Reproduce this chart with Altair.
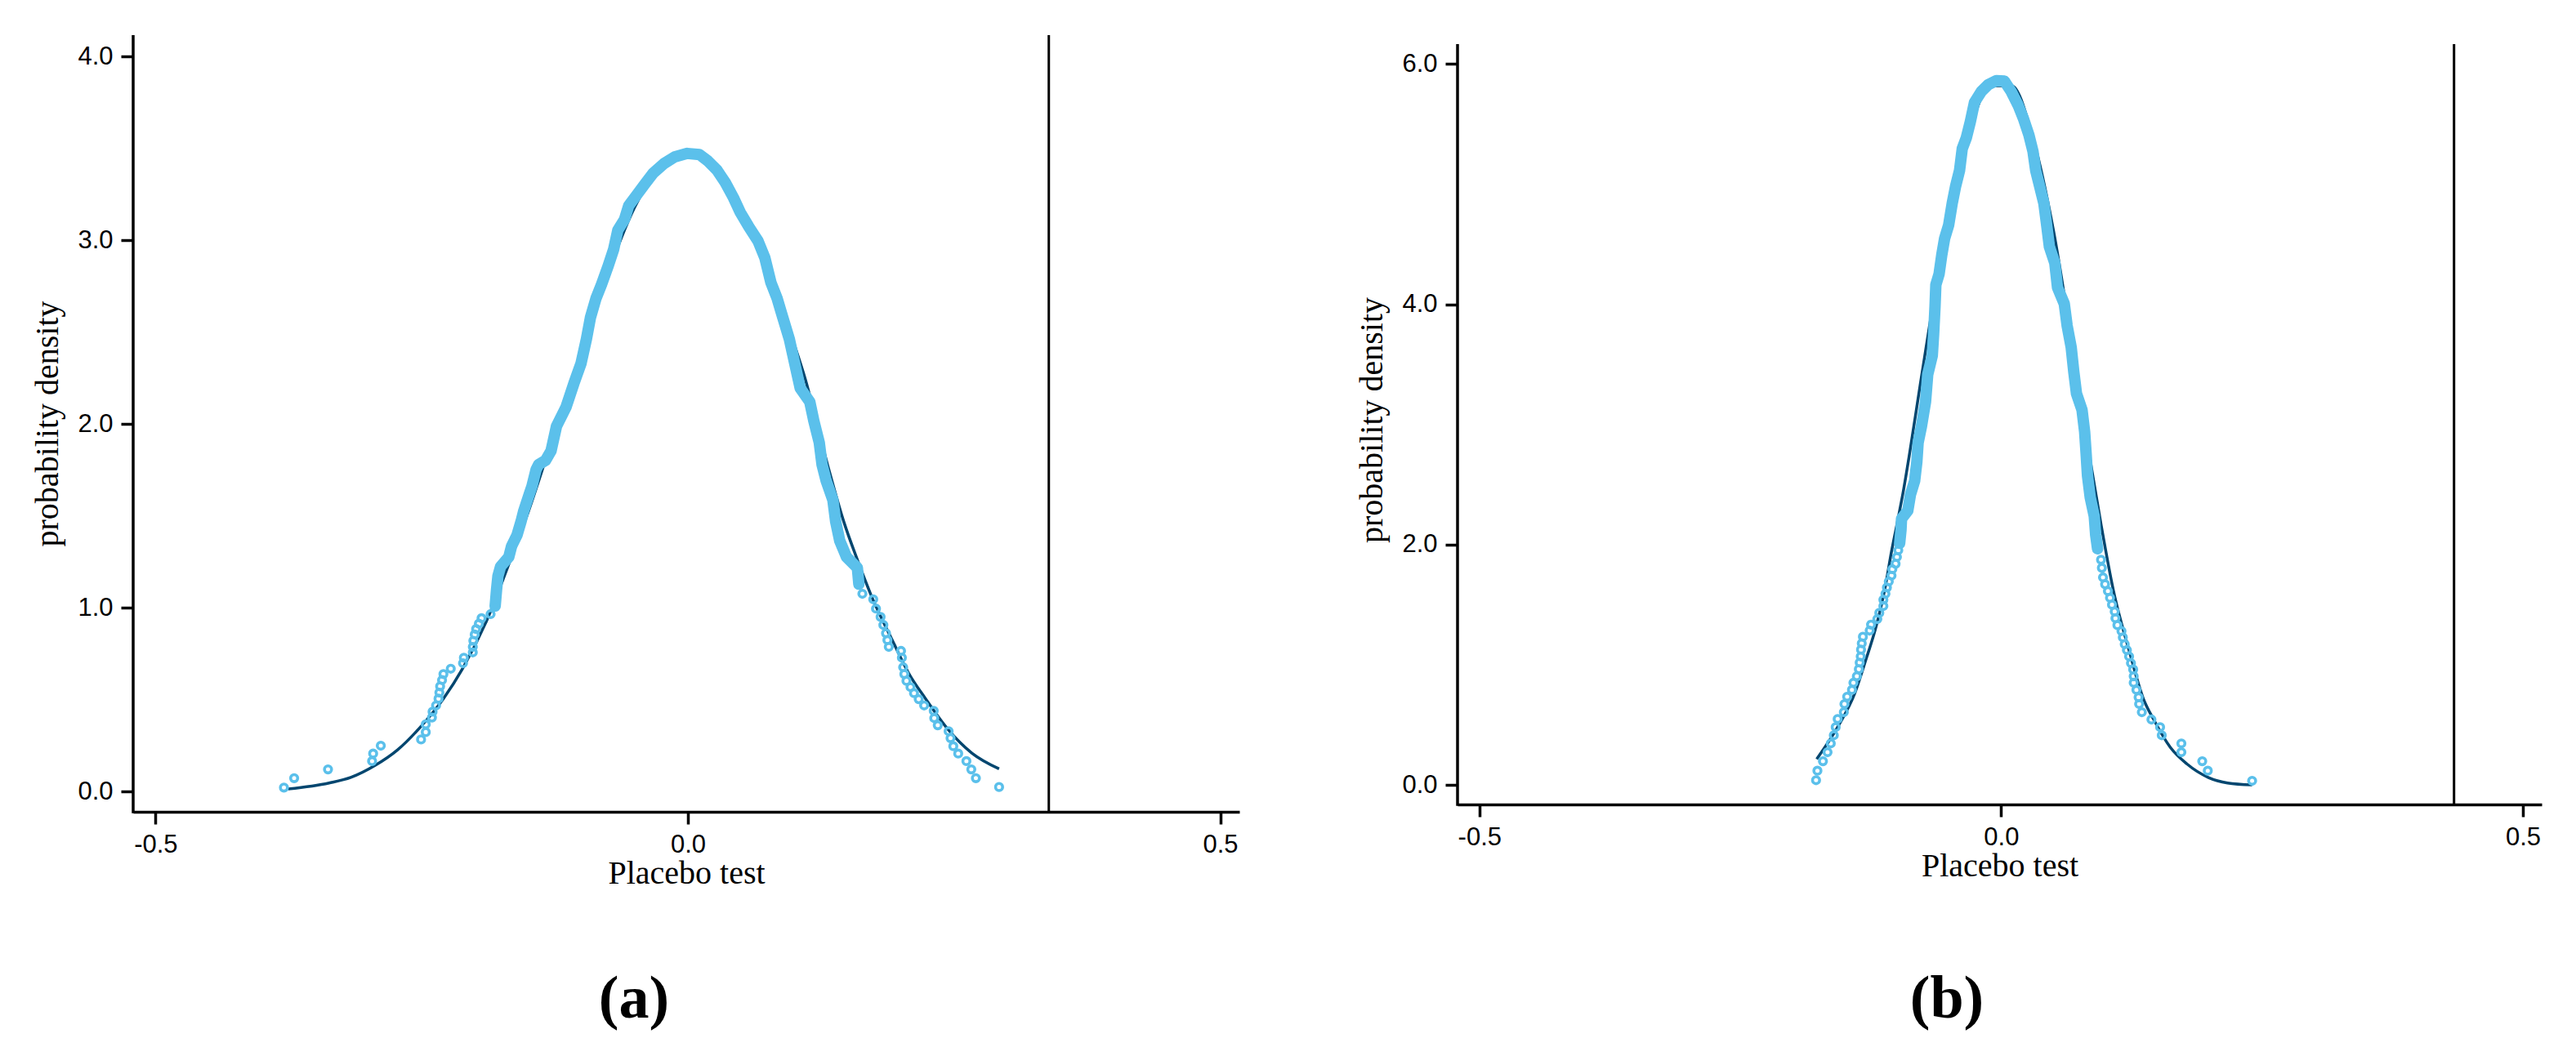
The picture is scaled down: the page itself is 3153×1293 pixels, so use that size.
import altair as alt
import pandas as pd

# ---------------- panel (a) data ----------------
dark_a_x = [-0.3754, -0.337, -0.3166, -0.2936, -0.2731, -0.2513, -0.2296, -0.2117, -0.1886, -0.1695,
            -0.15, -0.13, -0.11, -0.09, -0.07, -0.05, -0.03, -0.01, 0.01, 0.03, 0.05, 0.07, 0.09, 0.11,
            0.1311, 0.1464, 0.1592, 0.1721, 0.1925, 0.2078, 0.2232, 0.2437, 0.2667, 0.2923]
dark_a_y = [0.013, 0.046, 0.076, 0.142, 0.224, 0.350, 0.505, 0.668, 0.935, 1.217,
            1.52, 1.87, 2.22, 2.56, 2.90, 3.18, 3.37, 3.46, 3.46, 3.37, 3.18, 2.93, 2.60, 2.25,
            1.780, 1.469, 1.261, 1.068, 0.817, 0.639, 0.505, 0.342, 0.209, 0.123]

band_a_x = [-0.1810, -0.1797, -0.1784, -0.1759, -0.1682, -0.1656, -0.1605, -0.1567, -0.1541, -0.1490,
            -0.1464, -0.1426, -0.1401, -0.1337, -0.1285, -0.1234, -0.1145, -0.1068, -0.1004, -0.0953,
            -0.0915, -0.0863, -0.0812, -0.0748, -0.0697, -0.0658, -0.0595, -0.0556, -0.0480, -0.0403,
            -0.0326, -0.0224, -0.0121, -0.0006, 0.0109, 0.0186, 0.0275, 0.0352, 0.0428, 0.0493,
            0.0569, 0.0659, 0.0723, 0.0780, 0.0838, 0.0876, 0.0953, 0.1004, 0.1055, 0.1145,
            0.1183, 0.1234, 0.1260, 0.1299, 0.1362, 0.1388, 0.1426, 0.1490, 0.1592, 0.1606]
band_a_y = [1.009, 1.098, 1.172, 1.224, 1.276, 1.335, 1.395, 1.469, 1.528, 1.617,
            1.662, 1.751, 1.780, 1.802, 1.854, 1.988, 2.091, 2.225, 2.329, 2.462,
            2.580, 2.684, 2.758, 2.862, 2.951, 3.055, 3.114, 3.188, 3.247, 3.307,
            3.366, 3.418, 3.455, 3.473, 3.467, 3.433, 3.381, 3.314, 3.232, 3.151,
            3.077, 2.996, 2.905, 2.770, 2.684, 2.610, 2.462, 2.329, 2.195, 2.121,
            2.017, 1.899, 1.780, 1.691, 1.587, 1.469, 1.365, 1.276, 1.217, 1.128]

pts_a_x = [-0.3794, -0.3698, -0.338, -0.2966, -0.2956, -0.2884, -0.2506, -0.2462, -0.2462, -0.2404,
           -0.2398, -0.2365, -0.2342, -0.2334, -0.2327, -0.2309, -0.2296, -0.2227, -0.2112, -0.2104,
           -0.2020, -0.2020, -0.2015, -0.2002, -0.1989, -0.1963, -0.1938, -0.1853, -0.1810,
           0.1639, 0.1741, 0.1767, 0.1810, 0.1836, 0.1861, 0.1874, 0.1887, 0.2002, 0.2010,
           0.2022, 0.2033, 0.2053, 0.2091, 0.2124, 0.2168, 0.2219, 0.2309, 0.2314, 0.2347,
           0.2449, 0.2467, 0.2493, 0.2539, 0.2616, 0.2662, 0.2705, 0.2923]
pts_a_y = [0.021, 0.072, 0.120, 0.165, 0.206, 0.249, 0.283, 0.323, 0.365, 0.402,
           0.434, 0.468, 0.505, 0.538, 0.572, 0.606, 0.639, 0.668, 0.698, 0.728,
           0.757, 0.787, 0.820, 0.854, 0.884, 0.913, 0.943, 0.965, 1.009,
           1.076, 1.046, 0.995, 0.950, 0.906, 0.861, 0.824, 0.787, 0.765, 0.728,
           0.676, 0.639, 0.602, 0.568, 0.535, 0.502, 0.468, 0.439, 0.399, 0.360,
           0.328, 0.290, 0.246, 0.206, 0.165, 0.120, 0.072, 0.024]

vline_a = [0.339]
yticks_a = [0, 1, 2, 3, 4]

# ---------------- panel (b) data ----------------
dark_b_x = [-0.1768, -0.1560, -0.1403, -0.1299, -0.1195, -0.1116, -0.1051, -0.0999, -0.0934, -0.0882,
            -0.0777, -0.07, -0.05, -0.03, -0.01, 0.01, 0.03, 0.05, 0.07, 0.085,
            0.0957, 0.1074, 0.1231, 0.1362, 0.1466, 0.1622, 0.1779, 0.1987, 0.2170, 0.2405]
dark_b_y = [0.215, 0.492, 0.763, 1.035, 1.330, 1.625, 1.942, 2.169, 2.463, 2.735,
            3.324, 3.75, 4.75, 5.45, 5.82, 5.82, 5.40, 4.62, 3.55, 2.72,
            2.169, 1.625, 1.103, 0.719, 0.537, 0.311, 0.175, 0.061, 0.016, 0.0]

band_b_x = [-0.0973, -0.0960, -0.0955, -0.0895, -0.0869, -0.0829, -0.0808, -0.0796, -0.0764, -0.0725,
            -0.0704, -0.0660, -0.0647, -0.0634, -0.0626, -0.0595, -0.0569, -0.0542, -0.0503, -0.0469,
            -0.0438, -0.0399, -0.0373, -0.0334, -0.0295, -0.0256, -0.0190, -0.0125, -0.0047, 0.0031,
            0.0096, 0.0162, 0.0214, 0.0266, 0.0305, 0.0331, 0.0370, 0.0409, 0.0436, 0.0462,
            0.0514, 0.0540, 0.0605, 0.0632, 0.0671, 0.0696, 0.0722, 0.0775, 0.0800, 0.0814,
            0.0827, 0.0853, 0.0892, 0.0906, 0.0924]
band_b_y = [2.010, 2.123, 2.214, 2.282, 2.418, 2.531, 2.690, 2.848, 2.984, 3.188,
            3.415, 3.574, 3.755, 3.982, 4.163, 4.253, 4.412, 4.548, 4.661, 4.842,
            4.978, 5.114, 5.296, 5.386, 5.522, 5.681, 5.772, 5.828, 5.862, 5.858,
            5.772, 5.658, 5.545, 5.409, 5.273, 5.114, 4.978, 4.842, 4.661, 4.480,
            4.344, 4.140, 4.004, 3.823, 3.642, 3.438, 3.256, 3.120, 2.939, 2.758,
            2.576, 2.395, 2.237, 2.078, 1.965]

pts_b_x = [-0.1774, -0.1761, -0.1708, -0.1664, -0.1633, -0.1604, -0.1586, -0.1567, -0.1508, -0.1502,
           -0.1476, -0.1430, -0.1416, -0.1383, -0.1364, -0.1356, -0.1346, -0.1343, -0.1336, -0.1325,
           -0.1260, -0.1247, -0.1187, -0.1168, -0.1129, -0.1129, -0.1109, -0.1095, -0.1077, -0.1051,
           -0.1043, -0.1012, -0.0999, -0.0986,
           0.0957, 0.0965, 0.0976, 0.0996, 0.1023, 0.1043, 0.1062, 0.1088, 0.1095, 0.1114,
           0.1153, 0.1166, 0.1184, 0.1205, 0.1226, 0.1244, 0.1265, 0.1270, 0.1270, 0.1296,
           0.1317, 0.1322, 0.1348, 0.1440, 0.1523, 0.1539, 0.1727, 0.1727, 0.1927, 0.1980, 0.2405]
pts_b_y = [0.039, 0.118, 0.197, 0.272, 0.345, 0.413, 0.481, 0.549, 0.605, 0.673,
           0.734, 0.791, 0.850, 0.904, 0.963, 1.018, 1.069, 1.126, 1.178, 1.233,
           1.285, 1.334, 1.380, 1.432, 1.489, 1.541, 1.591, 1.643, 1.693, 1.742,
           1.795, 1.840, 1.897, 1.953,
           1.874, 1.806, 1.727, 1.670, 1.613, 1.557, 1.500, 1.443, 1.387, 1.330,
           1.280, 1.228, 1.171, 1.122, 1.069, 1.013, 0.961, 0.904, 0.850, 0.791,
           0.729, 0.673, 0.605, 0.544, 0.481, 0.413, 0.345, 0.272, 0.197, 0.118, 0.034]

vline_b = [0.434]
yticks_b = [0, 2, 4, 6]

xticks = [-0.5, 0.0, 0.5]

BLUE = "#5bc0eb"
NAVY = "#02466f"
LABEL_EXPR = "datum.value < 0 ? '-' + format(-datum.value, '.1f') : format(datum.value, '.1f')"


def panel(dark_x, dark_y, band_x, band_y, pts_x, pts_y, vline, yticks, ydom,
          w, h, label, lab_x, lab_y, gap):
    # gap: empty pixels at the top of the view before the plot frame starts
    xenc = alt.X("x:Q", scale=alt.Scale(domain=[-0.521, 0.518], nice=False, zero=False),
                 axis=alt.Axis(values=xticks, labelExpr=LABEL_EXPR, title="Placebo test"))
    yenc = alt.Y("y:Q", scale=alt.Scale(domain=ydom, nice=False, zero=False),
                 axis=alt.Axis(values=yticks, format=".1f", title="probability density",
                               domain=False))

    frame = alt.Chart(pd.DataFrame({"g": [0]})).mark_rule(color="black", strokeWidth=3.5).encode(
        x=alt.value(0), y=alt.value(gap), y2=alt.value(h + 1.75))
    dark = alt.Chart(pd.DataFrame({"x": dark_x, "y": dark_y, "i": range(len(dark_x))})).mark_line(
        color=NAVY, strokeWidth=3.5, interpolate="monotone").encode(x=xenc, y=yenc, order="i:Q")
    band = alt.Chart(pd.DataFrame({"x": band_x, "y": band_y, "i": range(len(band_x))})).mark_line(
        color=BLUE, strokeWidth=14, strokeCap="round", strokeJoin="round").encode(
        x=xenc, y=yenc, order="i:Q")
    pts = alt.Chart(pd.DataFrame({"x": pts_x, "y": pts_y})).mark_point(
        shape="circle", filled=False, size=75, strokeWidth=3.6, color=BLUE, opacity=1).encode(
        x=xenc, y=yenc)
    rule = alt.Chart(pd.DataFrame({"x": vline})).mark_rule(color="black", strokeWidth=3).encode(
        x=xenc, y=alt.value(gap), y2=alt.value(h))
    txt = alt.Chart(pd.DataFrame({"t": [label]})).mark_text(
        font="Liberation Serif", fontSize=74, fontWeight="bold", baseline="alphabetic",
        align="center", color="black").encode(x=alt.value(lab_x), y=alt.value(lab_y), text="t:N")
    return alt.layer(frame, dark, band, pts, rule, txt).properties(width=w, height=h)


pa = panel(dark_a_x, dark_a_y, band_a_x, band_a_y, pts_a_x, pts_a_y, vline_a, yticks_a,
           [-0.111, 4.117], 1354, 951, "(a)", 613, 1203, 0)
pb = panel(dark_b_x, dark_b_y, band_b_x, band_b_y, pts_b_x, pts_b_y, vline_b, yticks_b,
           [-0.163, 6.241], 1327, 942, "(b)", 599, 1203, 11)

chart = alt.hconcat(pa, pb, spacing=142).properties(
    padding={"left": 30, "top": 33, "right": 5, "bottom": 5}
).configure_view(stroke=None).configure_axis(
    domainColor="black", domainWidth=3.5, tickColor="black", tickWidth=3.5, tickSize=15,
    labelFont="Liberation Sans", labelFontSize=31, labelColor="black", labelPadding=10,
    labelFlush=False, labelOverlap=False,
    titleFont="Liberation Serif", titleFontSize=40, titleFontWeight="normal", titleColor="black",
    grid=False
).configure_axisY(titlePadding=16).configure_axisX(titlePadding=0)

chart.save("out.html", embed_options={"renderer": "svg", "actions": False})
